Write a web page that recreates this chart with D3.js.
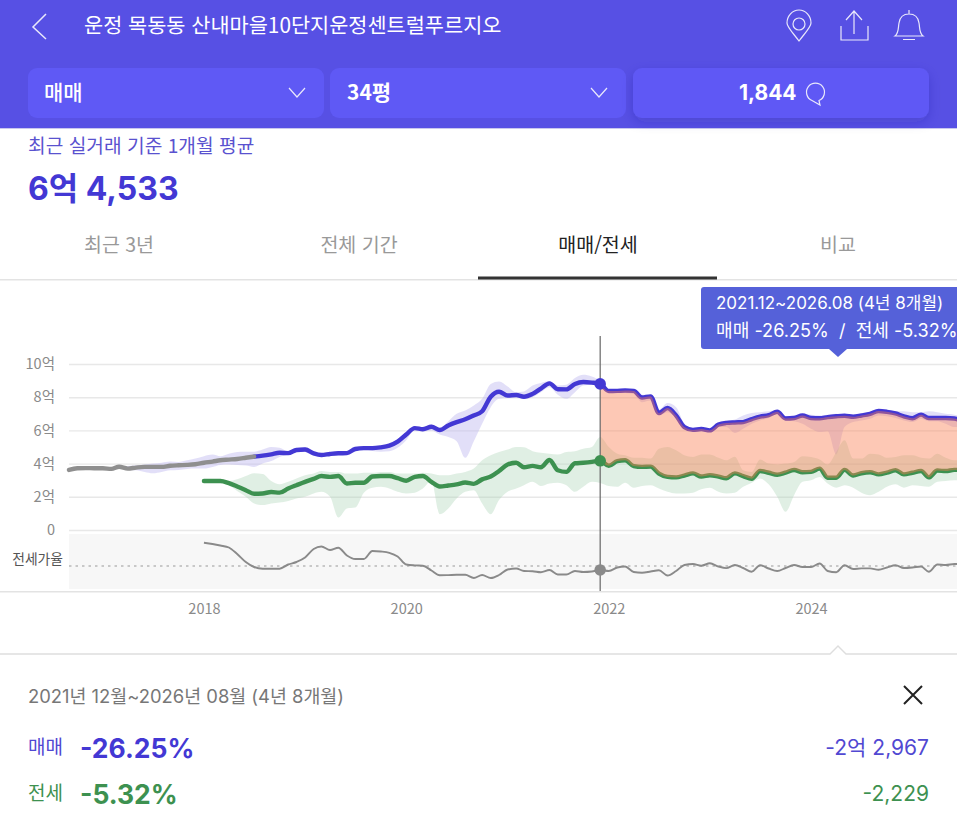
<!DOCTYPE html>
<html lang="ko">
<head>
<meta charset="utf-8">
<style>
  html, body { margin: 0; padding: 0; background: #fff; overflow: hidden; }
  svg { display: block; }
  text { font-family: Inter, "Noto Sans CJK KR", "Noto Sans", sans-serif; }
  .cjk text, text.cjk { font-family: "Noto Sans CJK KR", "Noto Sans", sans-serif; }
</style>
</head>
<body>
<script src="https://cdn.jsdelivr.net/npm/d3@7"></script>
<script>
// monthly values. first month is 2016-09
const firstMonth = new Date(2016, 8, 1);
const lastMonth = new Date(2025, 6, 1);
const months = d3.timeMonth.range(firstMonth, d3.timeMonth.offset(lastMonth, 1));

const selectedMonth = new Date(2021, 11, 1);
const grayEnd = 22;      // sale line is gray up to this month
const jeonseStart = 16;
const saleBandStart = 6;
const jeonseBandStart = 18;

const yTicks = [0, 2, 4, 6, 8, 10];
const yearTicks = [2018, 2020, 2022, 2024];
const ratioRef = 50;

// 매매 (억)
const saleValues = [
  3.62, 3.72, 3.73, 3.72, 3.72, 3.68, 3.81, 3.70, 3.76, 3.80,
  3.80, 3.80, 3.87, 3.90, 3.92, 3.96, 4.05, 4.12, 4.20, 4.24,
  4.28, 4.35, 4.42, 4.48, 4.56, 4.65, 4.63, 4.82, 4.85, 4.62,
  4.52, 4.58, 4.62, 4.63, 4.88, 4.93, 4.93, 4.98, 5.08, 5.32,
  5.75, 6.14, 6.07, 6.22, 6.02, 6.30, 6.50, 6.67, 6.90, 7.15,
  8.03, 8.33, 8.10, 8.13, 8.03, 8.20, 8.52, 8.83, 8.48, 8.47,
  8.80, 8.92, 8.88, 8.80, 8.37, 8.38, 8.40, 8.38, 7.98, 8.05,
  7.05, 7.35, 6.90, 6.20, 6.03, 6.08, 6.00, 6.35, 6.45, 6.48,
  6.50, 6.68, 6.83, 6.92, 7.12, 6.72, 6.75, 6.90, 6.75, 6.73,
  6.80, 6.85, 6.88, 6.82, 6.90, 7.00, 7.17, 7.12, 7.02, 6.85,
  6.73, 6.95, 6.75, 6.75, 6.75, 6.72, 6.55
];
const saleHigh = [
  3.85, 3.85, 3.90, 3.95, 4.00, 4.05, 4.12, 4.10, 4.20, 4.30,
  4.45, 4.55, 4.45, 4.60, 4.70, 4.72, 4.72, 4.85, 5.00, 4.95,
  4.72, 4.92, 5.00, 4.72, 4.60, 4.65, 4.68, 4.68, 4.92, 4.98,
  5.00, 5.02, 5.10, 5.40, 5.85, 6.25, 6.20, 6.35, 6.15, 6.55,
  7.00, 7.20, 7.50, 7.90, 8.80, 8.95, 8.65, 8.30, 8.35, 8.70,
  8.85, 8.97, 8.70, 8.75, 9.15, 9.35, 9.25, 9.00, 8.45, 8.45,
  8.48, 8.45, 8.15, 8.15, 7.25, 7.65, 7.40, 6.40, 6.10, 6.15,
  6.08, 6.45, 6.55, 6.65, 6.90, 7.05, 7.10, 7.15, 7.20, 6.85,
  6.90, 7.00, 6.95, 6.90, 6.95, 7.00, 6.95, 6.95, 7.00, 7.10,
  7.25, 7.25, 7.15, 7.15, 7.10, 7.10, 7.15, 7.10, 7.00, 6.95,
  6.80
];
const saleLow = [
  3.75, 3.62, 3.60, 3.50, 3.42, 3.50, 3.60, 3.62, 3.68, 3.70,
  3.70, 3.80, 3.92, 3.95, 3.92, 3.88, 3.80, 4.00, 4.15, 4.40,
  4.55, 4.75, 4.70, 4.50, 4.45, 4.50, 4.55, 4.58, 4.80, 4.85,
  4.76, 4.72, 4.75, 4.95, 5.40, 6.05, 5.95, 6.00, 5.75, 5.60,
  5.35, 4.35, 5.35, 6.40, 7.40, 7.90, 7.95, 8.00, 7.90, 8.00,
  8.30, 8.60, 8.15, 7.90, 8.30, 8.70, 8.75, 8.65, 8.25, 8.30,
  8.25, 8.20, 7.70, 7.80, 6.90, 7.10, 6.75, 6.10, 5.95, 6.00,
  5.95, 6.20, 6.20, 5.85, 6.10, 6.40, 6.60, 6.75, 7.00, 6.60,
  6.55, 6.40, 6.10, 5.90, 5.95, 4.55, 6.20, 6.50, 6.60, 6.70,
  6.90, 6.85, 6.75, 6.60, 6.50, 6.70, 6.55, 6.55, 6.40, 6.20,
  6.20
];

// 전세 (억)
const jeonseValues = [
  2.95, 2.95, 2.95, 2.82, 2.62, 2.40, 2.18, 2.20, 2.29, 2.25,
  2.50, 2.70, 2.90, 3.08, 3.25, 3.20, 3.25, 2.80, 2.85, 2.85,
  3.22, 3.25, 3.25, 3.12, 2.97, 3.20, 3.25, 2.90, 2.62, 2.68,
  2.75, 2.86, 2.78, 3.05, 3.22, 3.55, 3.95, 4.05, 3.78, 3.86,
  3.78, 4.22, 3.60, 3.50, 4.02, 4.05, 4.10, 4.17, 3.87, 4.15,
  4.20, 3.85, 3.80, 3.82, 3.40, 3.20, 3.17, 3.28, 3.41, 3.22,
  3.30, 3.22, 3.12, 3.41, 3.25, 3.09, 3.55, 3.45, 3.33, 3.45,
  3.61, 3.48, 3.50, 3.70, 3.15, 3.15, 3.62, 3.28, 3.42, 3.48,
  3.35, 3.45, 3.60, 3.35, 3.45, 3.55, 3.17, 3.58, 3.55, 3.62,
  3.62
];
const jeonseHigh = [
  3.00, 2.95, 3.05, 3.25, 3.42, 3.38, 2.95, 2.75, 2.90, 3.10,
  3.30, 3.40, 3.55, 3.50, 3.50, 3.40, 3.40, 3.45, 3.45, 3.50,
  3.50, 3.40, 3.40, 3.40, 3.45, 3.40, 3.30, 3.30, 3.40, 3.50,
  3.70, 4.20, 4.50, 4.70, 4.85, 5.00, 4.98, 4.75, 4.65, 4.60,
  4.55, 4.70, 4.75, 4.90, 5.00, 5.60, 5.00, 4.60, 4.50, 4.35,
  4.35, 4.30, 4.90, 5.00, 4.80, 4.50, 4.40, 4.55, 4.55, 4.35,
  4.20, 4.42, 3.60, 3.50, 4.25, 4.00, 3.95, 4.00, 4.10, 4.45,
  4.40, 4.25, 3.95, 4.70, 5.40, 4.30, 4.30, 4.60, 4.55, 4.35,
  4.40, 4.50, 4.50, 4.35, 4.30, 4.60, 4.35, 4.20, 4.20
];
const jeonseLow = [
  2.90, 2.70, 2.35, 2.00, 1.60, 1.50, 1.60, 1.65, 1.75, 1.90,
  2.00, 2.20, 2.30, 2.00, 0.75, 1.30, 1.35, 2.25, 2.55, 2.60,
  2.50, 2.30, 2.20, 2.25, 2.50, 2.95, 0.95, 1.30, 1.90, 2.30,
  2.40, 1.60, 0.95, 1.80, 2.30, 2.50, 2.70, 2.90, 2.65, 2.80,
  2.85, 2.70, 2.30, 2.60, 2.90, 2.83, 2.65, 2.60, 2.85, 2.55,
  2.65, 2.70, 2.50, 2.30, 2.20, 2.20, 2.25, 2.45, 2.55, 2.30,
  2.20, 2.25, 2.60, 2.85, 3.10, 2.75, 2.00, 1.10, 2.10, 2.90,
  3.00, 3.20, 2.80, 2.55, 2.70, 2.55, 2.25, 2.10, 2.30, 2.60,
  2.75, 2.55, 2.70, 2.65, 2.60, 2.90, 2.95, 3.00, 3.00
];

// 전세가율 (%)
const ratioValues = [
  73.3, 72.0, 70.5, 68.5, 62.0, 54.0, 49.0, 47.3, 47.3, 47.3,
  51.5, 54.0, 58.5, 67.0, 69.5, 66.0, 68.3, 60.5, 57.0, 57.0,
  65.0, 64.5, 63.2, 59.5, 51.5, 50.6, 50.3, 45.5, 40.7, 40.9,
  41.2, 41.2, 38.0, 41.0, 38.0, 41.0, 46.5, 47.5, 45.0, 44.8,
  43.8, 46.0, 41.5, 41.5, 45.0, 44.0, 44.5, 46.0, 45.0, 48.5,
  49.5, 44.0, 43.3, 44.5, 45.8, 40.5, 45.0, 51.0, 52.0, 50.3,
  52.7, 49.5, 47.9, 51.0, 48.0, 44.3, 50.8, 47.5, 45.0, 48.0,
  51.0, 49.0, 49.0, 52.5, 45.0, 43.8, 50.8, 47.0, 47.6, 47.6,
  46.2, 48.5, 50.8, 48.0, 48.5, 49.5, 44.3, 51.5, 51.0, 52.0,
  52.0
];

const width = 957, height = 834;
const purple = "#5750e4", boxPurple = "#5f59f5", blue = "#4338d4", green = "#3d9150", gray = "#8f8f8f";

const svg = d3.select("body").append("svg").attr("width", width).attr("height", height);

function label(x, y, str, size, fill, opts) {
  opts = opts || {};
  return svg.append("text").attr("x", x).attr("y", y).text(str)
    .attr("font-size", size).attr("fill", fill)
    .attr("font-weight", opts.weight || 400)
    .attr("text-anchor", opts.anchor || "start");
}

// HEADER
svg.append("defs").append("filter").attr("id", "soft")
  .attr("x", "-10%").attr("y", "-30%").attr("width", "120%").attr("height", "170%")
  .append("feDropShadow").attr("dx", 0).attr("dy", 4).attr("stdDeviation", 6)
  .attr("flood-color", "#2a2590").attr("flood-opacity", 0.22);

svg.append("rect").attr("width", width).attr("height", 128).attr("fill", purple);
svg.append("rect").attr("y", 128).attr("width", width).attr("height", 1).attr("fill", "#c9c7ee");

const boxes = [[28, 296], [330, 296], [633, 296]];
boxes.forEach((b, i) => {
  svg.append("rect").attr("x", b[0]).attr("y", 68).attr("width", b[1]).attr("height", 50).attr("rx", 9)
    .attr("fill", boxPurple).attr("filter", i === 2 ? "url(#soft)" : null);
});

const icons = svg.append("g").attr("fill", "none").attr("stroke", "#e9e8fb").attr("stroke-width", 1.2);
icons.append("path").attr("d", "M46,14 L33,27 L46,39").attr("stroke-width", 1.5);
icons.append("path").attr("d", "M799,41 C793,33 787,27 787,23 A12,13 0 0 1 811,23 C811,27 805,33 799,41Z");
icons.append("circle").attr("cx", 799).attr("cy", 24).attr("r", 6);
icons.append("path").attr("d", "M841,26 V40 H868 V26 M854,34 V12 M846,20 L854,11 L862,20");
icons.append("path").attr("d", "M895,36 C899,33 898,28 899,23 C900,16 905,14 909,14 C913,14 918,16 919,23 C920,28 919,33 923,36 Z M909,14 V10 M903,39.5 H915");
icons.append("path").attr("d", "M289,88 L297,97 L305,88");
icons.append("path").attr("d", "M591,88 L599,97 L607,88");
icons.append("path").attr("d", "M812,100.5 A9,9 0 1 1 819,100.5 L820,105 Z");

label(84, 33, "운정 목동동 산내마을10단지운정센트럴푸르지오", 20.8, "#fff").attr("class", "cjk");

label(44, 100, "매매", 21, "#fff", { weight: 500 }).attr("class", "cjk");
label(347, 100, "34평", 21, "#fff", { weight: 700 }).attr("class", "cjk");
label(739, 100, "1,844", 21, "#fff", { weight: 700 });

// SUMMARY + TABS
label(28, 153, "최근 실거래 기준 1개월 평균", 19.2, "#5a52cf").attr("class", "cjk");
label(28, 200, "6억 4,533", 32, blue, { weight: 700 });

const tabs = [["최근 3년", 119, "#999"], ["전체 기간", 359, "#999"], ["매매/전세", 598, "#222"], ["비교", 838, "#999"]];
tabs.forEach(t => label(t[1], 252, t[0], 19.5, t[2], { anchor: "middle" }).attr("class", "cjk"));
svg.append("rect").attr("y", 279).attr("width", width).attr("height", 1.5).attr("fill", "#e3e3e3");
svg.append("rect").attr("x", 478).attr("y", 276.5).attr("width", 239).attr("height", 3).attr("fill", "#333");

// SCALES
const x = d3.scaleTime().domain([firstMonth, lastMonth]).range([69, 962.6]);
const y = d3.scaleLinear().domain([0, 10]).range([530, 364]);
const yRatio = d3.scaleLinear().domain([27, 82]).range([589, 534]);

const sale = saleValues.map((v, i) => ({ date: months[i], v }));
const jeonse = jeonseValues.map((v, i) => ({ date: months[i + jeonseStart], v }));
const ratio = ratioValues.map((v, i) => ({ date: months[i + jeonseStart], v }));
const saleBand = saleHigh.map((h, i) => ({ date: months[i + saleBandStart], h, l: saleLow[i] }));
const jeonseBand = jeonseHigh.map((h, i) => ({ date: months[i + jeonseBandStart], h, l: jeonseLow[i] }));
const selIndex = d3.timeMonth.count(firstMonth, selectedMonth);

// AXES
svg.append("rect").attr("x", 69).attr("y", 534).attr("width", width - 69).attr("height", 55).attr("fill", "#f7f7f7");

const yAxis = svg.append("g").attr("class", "cjk").attr("transform", "translate(69,0)")
  .call(d3.axisLeft(y).tickValues(yTicks).tickSize(-(width - 69)).tickPadding(14)
    .tickFormat(d => d === 0 ? "0" : d + "억"));
yAxis.select(".domain").remove();
yAxis.selectAll("line").attr("stroke", "#e8e8e8").attr("stroke-width", 1.4);
yAxis.selectAll("text").attr("font-size", 14.5).attr("fill", "#8a8a8a");

const xAxis = svg.append("g").attr("class", "cjk").attr("transform", "translate(0,592)")
  .call(d3.axisBottom(x).tickValues(yearTicks.map(d => new Date(d, 0, 1))).tickSize(0).tickPadding(12)
    .tickFormat(d3.timeFormat("%Y")));
xAxis.select(".domain").remove();
xAxis.selectAll("text").attr("font-size", 14.5).attr("fill", "#8a8a8a");
svg.append("rect").attr("y", 591).attr("width", width).attr("height", 1.5).attr("fill", "#e3e3e3");

label(63, 564, "전세가율", 13.8, "#555", { anchor: "end" }).attr("class", "cjk");
svg.append("line").attr("x1", 69).attr("x2", width)
  .attr("y1", yRatio(ratioRef)).attr("y2", yRatio(ratioRef))
  .attr("stroke", "#9a9a9a").attr("stroke-width", 1.2).attr("stroke-dasharray", "2.5,4");

// BANDS
const band = d3.area().x(d => x(d.date)).y0(d => y(d.l)).y1(d => y(d.h)).curve(d3.curveMonotoneX);
svg.append("path").datum(saleBand).attr("d", band).attr("fill", "#b9b2ee").attr("opacity", 0.42);
svg.append("path").datum(jeonseBand).attr("d", band).attr("fill", "#a9d4b5").attr("opacity", 0.36);

// LINES
const line = d3.line().x(d => x(d.date)).y(d => y(d.v)).curve(d3.curveMonotoneX);
function drawLine(data, color) {
  svg.append("path").datum(data).attr("d", line).attr("fill", "none")
    .attr("stroke", color).attr("stroke-width", 4.4)
    .attr("stroke-linejoin", "round").attr("stroke-linecap", "round");
}
drawLine(sale.slice(grayEnd), blue);
drawLine(jeonse, green);
drawLine(sale.slice(0, grayEnd + 1), gray);

// gap between sale and jeonse after the selected month
const gap = sale.slice(selIndex).map((d, i) => ({ date: d.date, h: d.v, l: jeonseValues[selIndex - jeonseStart + i] }));
svg.append("path").datum(gap).attr("d", band).attr("fill", "#fb7d4e").attr("opacity", 0.42);

svg.append("path").datum(ratio)
  .attr("d", d3.line().x(d => x(d.date)).y(d => yRatio(d.v)).curve(d3.curveMonotoneX))
  .attr("fill", "none").attr("stroke", "#8a8a8a").attr("stroke-width", 1.9);

// SELECTED MONTH
svg.append("line").attr("x1", x(selectedMonth)).attr("x2", x(selectedMonth)).attr("y1", 336).attr("y2", 591)
  .attr("stroke", "#666").attr("stroke-width", 1.2);
svg.append("circle").attr("cx", x(selectedMonth)).attr("cy", y(saleValues[selIndex])).attr("r", 5.8).attr("fill", blue);
svg.append("circle").attr("cx", x(selectedMonth)).attr("cy", y(jeonseValues[selIndex - jeonseStart])).attr("r", 5.8).attr("fill", green);
svg.append("circle").attr("cx", x(selectedMonth)).attr("cy", yRatio(ratioValues[selIndex - jeonseStart])).attr("r", 5.8).attr("fill", "#8a8a8a");

// TOOLTIP
svg.append("path").attr("d", "M704,287 H965 V349 H847 L838,357 L829,349 H704 Q701,349 701,346 V290 Q701,287 704,287Z")
  .attr("fill", "#5561d9");
label(716, 309, "2021.12~2026.08 (4년 8개월)", 17, "#fff");
label(716, 337, "매매 -26.25%  /  전세 -5.32%", 18.1, "#fff").attr("xml:space", "preserve");

// BOTTOM PANEL
svg.append("path").attr("d", "M0,654 H830 L838,646 L846,654 H957").attr("fill", "none").attr("stroke", "#dedede").attr("stroke-width", 1.4);
label(28, 703, "2021년 12월~2026년 08월 (4년 8개월)", 18.4, "#777");
svg.append("path").attr("d", "M904,686 L922,704 M922,686 L904,704").attr("stroke", "#222").attr("stroke-width", 2).attr("fill", "none");

label(28, 754, "매매", 19, "#5148d2").attr("class", "cjk");
label(80, 758, "-26.25%", 26.5, blue, { weight: 700 });
label(929, 755, "-2억 2,967", 21, "#5148d2", { anchor: "end" });
label(28, 800, "전세", 19, green).attr("class", "cjk");
label(80, 804, "-5.32%", 26.5, green, { weight: 700 });
label(929, 801, "-2,229", 21, green, { anchor: "end" });
</script>
</body>
</html>
